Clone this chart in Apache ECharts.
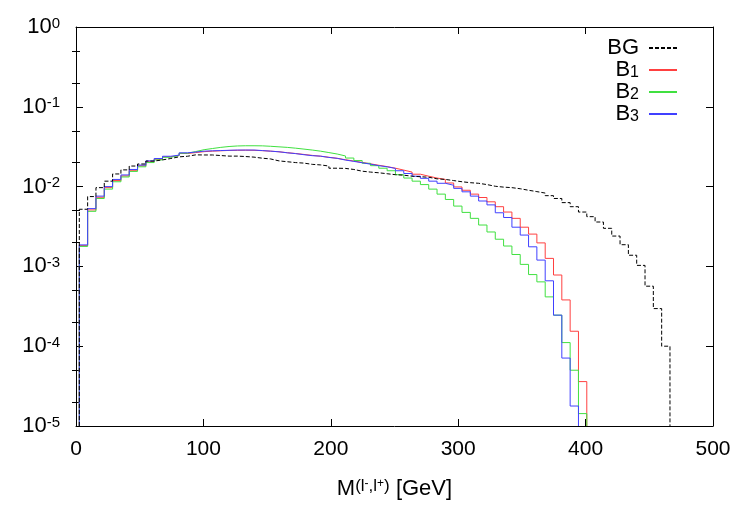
<!DOCTYPE html>
<html>
<head>
<meta charset="utf-8">
<script src="https://cdn.jsdelivr.net/npm/echarts@6/dist/echarts.min.js"></script>
<style>
  html, body { margin: 0; padding: 0; background: #fff; }
  #chart { width: 750px; height: 525px; }
</style>
</head>
<body>
<div id="chart"></div>
<script>
// histogram binning (GeV)
const binStart = 2.6;
const binWidth = 6.53;

// normalised distributions, one value per bin
const bgValues = [
  5.2e-3, 7.5e-3, 9.7e-3, 1.17e-2, 1.44e-2, 1.62e-2, 1.81e-2, 1.92e-2, 2.09e-2, 2.16e-2,
  2.25e-2, 2.36e-2, 2.4e-2, 2.5e-2, 2.49e-2, 2.49e-2, 2.45e-2, 2.41e-2, 2.41e-2, 2.38e-2,
  2.34e-2, 2.27e-2, 2.22e-2, 2.1e-2, 2.05e-2, 2.0e-2, 1.97e-2, 1.9e-2, 1.87e-2, 1.81e-2,
  1.7e-2, 1.69e-2, 1.64e-2, 1.56e-2, 1.52e-2, 1.49e-2, 1.45e-2, 1.41e-2, 1.39e-2, 1.35e-2,
  1.33e-2, 1.31e-2, 1.25e-2, 1.23e-2, 1.19e-2, 1.15e-2, 1.12e-2, 1.10e-2, 1.06e-2, 1.01e-2,
  9.85e-3, 9.7e-3, 9.4e-3, 9.0e-3, 8.65e-3, 8.3e-3, 7.7e-3, 7.1e-3, 6.3e-3, 5.6e-3,
  4.8e-3, 4.2e-3, 3.6e-3, 3.0e-3, 2.4e-3, 1.87e-3, 1.38e-3, 1.03e-3, 5.65e-4, 2.96e-4,
  1.0e-4
];
const b1Values = [
  1.82e-3, 5.1e-3, 7.35e-3, 9.7e-3, 1.19e-2, 1.36e-2, 1.6e-2, 1.82e-2, 2.05e-2, 2.2e-2,
  2.36e-2, 2.45e-2, 2.6e-2, 2.67e-2, 2.74e-2, 2.78e-2, 2.81e-2, 2.84e-2, 2.85e-2, 2.86e-2,
  2.85e-2, 2.82e-2, 2.78e-2, 2.73e-2, 2.66e-2, 2.6e-2, 2.53e-2, 2.46e-2, 2.4e-2, 2.33e-2,
  2.26e-2, 2.17e-2, 2.09e-2, 2.01e-2, 1.93e-2, 1.85e-2, 1.78e-2, 1.7e-2, 1.61e-2, 1.52e-2,
  1.43e-2, 1.35e-2, 1.28e-2, 1.23e-2, 1.11e-2, 9.9e-3, 9.0e-3, 8.05e-3, 7.3e-3, 6.45e-3,
  5.6e-3, 4.8e-3, 4.0e-3, 3.1e-3, 2.54e-3, 1.97e-3, 1.26e-3, 7.8e-4, 3.8e-4, 1.54e-4,
  3.6e-5
];
const b2Values = [
  1.78e-3, 4.9e-3, 7.1e-3, 9.3e-3, 1.15e-2, 1.32e-2, 1.55e-2, 1.77e-2, 2.0e-2, 2.16e-2,
  2.33e-2, 2.45e-2, 2.62e-2, 2.75e-2, 2.9e-2, 3.0e-2, 3.1e-2, 3.18e-2, 3.23e-2, 3.25e-2,
  3.25e-2, 3.24e-2, 3.2e-2, 3.15e-2, 3.1e-2, 3.03e-2, 2.95e-2, 2.87e-2, 2.78e-2, 2.67e-2,
  2.56e-2, 2.42e-2, 2.28e-2, 2.12e-2, 1.96e-2, 1.83e-2, 1.7e-2, 1.58e-2, 1.41e-2, 1.28e-2,
  1.17e-2, 1.06e-2, 9.3e-3, 8.05e-3, 6.9e-3, 5.7e-3, 4.75e-3, 4.0e-3, 3.3e-3, 2.7e-3,
  2.19e-3, 1.8e-3, 1.41e-3, 1.06e-3, 7.9e-4, 6.4e-4, 4.15e-4, 2.45e-4, 1.11e-4, 5.0e-5,
  1.43e-5
];
const b3Values = [
  1.86e-3, 5.3e-3, 7.6e-3, 1.0e-2, 1.23e-2, 1.40e-2, 1.64e-2, 1.86e-2, 2.1e-2, 2.25e-2,
  2.4e-2, 2.48e-2, 2.65e-2, 2.71e-2, 2.78e-2, 2.81e-2, 2.83e-2, 2.85e-2, 2.87e-2, 2.87e-2,
  2.87e-2, 2.83e-2, 2.78e-2, 2.73e-2, 2.65e-2, 2.59e-2, 2.51e-2, 2.44e-2, 2.41e-2, 2.32e-2,
  2.26e-2, 2.15e-2, 2.07e-2, 1.99e-2, 1.91e-2, 1.83e-2, 1.77e-2, 1.69e-2, 1.58e-2, 1.46e-2,
  1.35e-2, 1.27e-2, 1.17e-2, 1.10e-2, 1.04e-2, 9.5e-3, 8.6e-3, 7.6e-3, 6.6e-3, 5.9e-3,
  4.7e-3, 4.1e-3, 3.1e-3, 2.47e-3, 1.76e-3, 1.2e-3, 6.6e-4, 2.45e-4, 7.1e-5, 1.78e-5
];

// axis setup
const xTicks = [0, 100, 200, 300, 400, 500];
const yMin = 1e-5;
const yMax = 1;
const yMinorTicks = [2e-5, 5e-5, 2e-4, 5e-4, 2e-3, 5e-3, 2e-2, 5e-2, 2e-1, 5e-1];

const FONT = 'Liberation Sans, Arial, sans-serif';

// histogram -> step line points
function toSteps(values) {
  const pts = [[binStart, yMin]];
  values.forEach((v, i) => pts.push([binStart + i * binWidth, v]));
  const end = binStart + values.length * binWidth;
  pts.push([end, values[values.length - 1]]);
  pts.push([end, yMin]);
  return pts;
}

function histSeries(name, values, color, dashed) {
  return {
    name: name,
    type: 'line',
    step: 'end',
    data: toSteps(values),
    symbol: 'none',
    clip: true,
    lineStyle: { color: color, width: 1, type: dashed ? [4, 2] : 'solid' },
    itemStyle: { color: color }
  };
}

const legendNames = { BG: '{m|BG}', B1: '{m|B}{s|1}', B2: '{m|B}{s|2}', B3: '{m|B}{s|3}' };

function logAxis(position, opts) {
  return Object.assign({
    type: 'log',
    logBase: 10,
    min: yMin,
    max: yMax,
    position: position,
    splitLine: { show: false },
    axisLine: { show: false },
    axisTick: { show: false },
    axisLabel: { show: false }
  }, opts);
}

const chart = echarts.init(document.getElementById('chart'));
chart.setOption({
  animation: false,
  backgroundColor: '#fff',
  textStyle: { fontFamily: FONT, color: '#000' },
  grid: { left: 76, right: 37, top: 27, bottom: 99, containLabel: false },
  legend: {
    orient: 'vertical',
    right: 67,
    top: 32,
    align: 'right',
    itemWidth: 28,
    itemHeight: 12,
    itemGap: 0,
    data: ['BG', 'B1', 'B2', 'B3'],
    itemStyle: { opacity: 0 },
    formatter: name => legendNames[name],
    textStyle: {
      color: '#000',
      rich: {
        m: { fontSize: 22, lineHeight: 22, verticalAlign: 'top', fontFamily: FONT, padding: [0, 5, 0, 0] },
        s: { fontSize: 16, lineHeight: 16, verticalAlign: 'bottom', fontFamily: FONT, padding: [6, 5, 0, -5] }
      }
    }
  },
  xAxis: [
    {
      type: 'value',
      min: xTicks[0],
      max: xTicks[xTicks.length - 1],
      interval: 100,
      position: 'bottom',
      splitLine: { show: false },
      axisLine: { show: true, onZero: false, lineStyle: { color: '#000', width: 1 } },
      axisTick: { show: true, inside: true, length: 7, lineStyle: { color: '#000' } },
      axisLabel: { fontSize: 21, color: '#000', margin: 13, fontFamily: FONT },
      name: '{m|M}{sup|(l}{sup2|-}{sup|,l}{sup2|+}{sup|)}{m| [GeV]}',
      nameLocation: 'middle',
      nameGap: 52,
      nameTextStyle: {
        rich: {
          m: { fontSize: 22, lineHeight: 22, padding: [9, 0, 0, 0], verticalAlign: 'bottom', fontFamily: FONT, color: '#000' },
          sup: { fontSize: 17, lineHeight: 17, verticalAlign: 'top', fontFamily: FONT, color: '#000' },
          sup2: { fontSize: 12, lineHeight: 12, verticalAlign: 'top', fontFamily: FONT, color: '#000' }
        }
      }
    },
    {
      type: 'value',
      min: xTicks[0],
      max: xTicks[xTicks.length - 1],
      interval: 100,
      position: 'top',
      splitLine: { show: false },
      axisLine: { show: true, onZero: false, lineStyle: { color: '#000', width: 1 } },
      axisTick: { show: true, inside: true, length: 7, lineStyle: { color: '#000' } },
      axisLabel: { show: false }
    }
  ],
  yAxis: [
    logAxis('left', {
      interval: 1,
      axisLine: { show: true, onZero: false, lineStyle: { color: '#000', width: 1 } },
      axisTick: { show: true, inside: true, length: 7, lineStyle: { color: '#000' } },
      axisLabel: {
        show: true,
        margin: 16,
        formatter: v => '{b|10}{e|' + Math.round(Math.log10(v)) + '}',
        rich: {
          b: { fontSize: 22, lineHeight: 22, padding: [6, 0, 0, 0], verticalAlign: 'bottom', fontFamily: FONT, color: '#000' },
          e: { fontSize: 15, lineHeight: 15, verticalAlign: 'top', fontFamily: FONT, color: '#000' }
        }
      }
    }),
    logAxis('left', {
      axisTick: { show: true, inside: true, length: 4, customValues: yMinorTicks, lineStyle: { color: '#000' } }
    }),
    logAxis('right', {
      interval: 1,
      axisLine: { show: true, onZero: false, lineStyle: { color: '#000', width: 1 } },
      axisTick: { show: true, inside: true, length: 7, lineStyle: { color: '#000' } }
    }),
    logAxis('right', {
      axisTick: { show: true, inside: true, length: 4, customValues: yMinorTicks, lineStyle: { color: '#000' } }
    })
  ],
  series: [
    histSeries('B1', b1Values, '#ff4040', false),
    histSeries('B2', b2Values, '#40e040', false),
    histSeries('B3', b3Values, '#4040ff', false),
    histSeries('BG', bgValues, '#000000', true)
  ]
});
</script>
</body>
</html>
